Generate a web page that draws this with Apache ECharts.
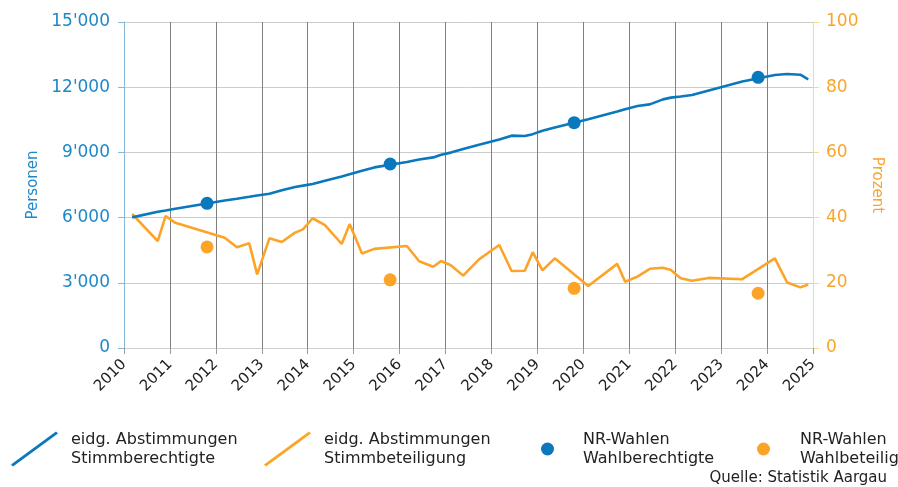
<!DOCTYPE html>
<html>
<head>
<meta charset="utf-8">
<script src="https://cdn.jsdelivr.net/npm/echarts@6/dist/echarts.min.js"></script>
<style>
html,body{margin:0;padding:0;background:#fff;}
#chart{width:898px;height:487px;}
</style>
</head>
<body>
<div id="chart"></div>
<script>
// ---- data ----
const voteDates = ['2010-03-07','2010-09-26','2010-11-28','2011-02-13','2012-03-11','2012-06-17','2012-09-23','2012-11-25',
  '2013-03-03','2013-06-09','2013-09-22','2013-11-24','2014-02-09','2014-05-18','2014-09-28','2014-11-30',
  '2015-03-08','2015-06-14','2016-02-28','2016-06-05','2016-09-25','2016-11-27','2017-02-12','2017-05-21',
  '2017-09-24','2018-03-04','2018-06-10','2018-09-23','2018-11-25','2019-02-10','2019-05-19','2020-02-09',
  '2020-09-27','2020-11-29','2021-03-07','2021-06-13','2021-09-26','2021-11-28','2022-02-13','2022-05-15',
  '2022-09-25','2023-06-18','2024-03-03','2024-06-09','2024-09-22','2024-11-24'];
const voteEligible = [6010,6270,6330,6410,6790,6870,6960,7020,
  7100,7260,7410,7470,7545,7700,7890,7990,
  8160,8310,8560,8670,8770,8890,8990,9160,
  9350,9590,9770,9755,9840,10000,10145,10530,
  10880,10990,11134,11210,11440,11520,11570,11640,
  11850,12260,12560,12605,12575,12360];
const voteTurnout = [41.1,32.8,40.5,38.4,33.8,30.9,32.1,22.6,
  33.7,32.5,35.4,36.4,39.8,37.7,31.9,38.0,
  29.0,30.4,31.3,26.6,24.9,26.7,25.4,22.2,
  27.2,31.6,23.6,23.7,29.4,23.8,27.5,19.0,
  25.8,20.3,21.9,24.3,24.6,23.9,21.4,20.6,
  21.5,21.1,27.5,20.1,18.6,19.5];
const electionDates = ['2011-10-23','2015-10-18','2019-10-20','2023-10-22'];
const electionEligible = [6657,8466,10367,12453];
const electionTurnout = [31.0,20.9,18.3,16.8];
const seriesNames = ['eidg. Abstimmungen\nStimmberechtigte','eidg. Abstimmungen\nStimmbeteiligung',
  'NR-Wahlen\nWahlberechtigte','NR-Wahlen\nWahlbeteiligung'];
const sourceText = 'Quelle: Statistik Aargau';

// ---- helpers ----
function toYear(s){
  const d = new Date(s+'T00:00:00Z');
  const y = d.getUTCFullYear();
  const a = Date.UTC(y,0,1), b = Date.UTC(y+1,0,1);
  return y + (d.getTime()-a)/(b-a);
}
function pairs(dates, vals){ return dates.map((d,i)=>[toYear(d), vals[i]]); }
function fmtThousands(v){ return String(v).replace(/\B(?=(\d{3})+(?!\d))/g, "'"); }

const BLUE = '#0a78bd', ORANGE = '#fca428';
const FONT = 'DejaVu Sans';
const linePath = 'path://M0,33 L45,0 L47,2 L2,35 Z';

const chart = echarts.init(document.getElementById('chart'));
const legendBase = {
  orient:'horizontal', top:430, padding:0, selectedMode:false,
  textStyle:{fontFamily:FONT, fontSize:16, color:'#222', lineHeight:19}
};
chart.setOption({
  animation:false,
  backgroundColor:'#fff',
  textStyle:{fontFamily:FONT},
  grid:{left:124, right:85, top:22, bottom:139, containLabel:false},
  title:{text:sourceText, right:11, top:471, padding:0,
    textStyle:{fontFamily:FONT, fontSize:15, fontWeight:'normal', color:'#222'}},
  legend:[
    Object.assign({}, legendBase, {left:11, itemWidth:47, itemHeight:35, data:[{name:seriesNames[0], icon:linePath}],
      textStyle:Object.assign({}, legendBase.textStyle, {padding:[0,0,0,8]})}),
    Object.assign({}, legendBase, {left:264, itemWidth:47, itemHeight:35, data:[{name:seriesNames[1], icon:linePath}],
      textStyle:Object.assign({}, legendBase.textStyle, {padding:[0,0,0,8]})}),
    Object.assign({}, legendBase, {left:541, itemWidth:13, itemHeight:13, data:[{name:seriesNames[2], icon:'circle'}],
      textStyle:Object.assign({}, legendBase.textStyle, {padding:[0,0,0,24]})}),
    Object.assign({}, legendBase, {left:757, itemWidth:13, itemHeight:13, data:[{name:seriesNames[3], icon:'circle'}],
      textStyle:Object.assign({}, legendBase.textStyle, {padding:[0,0,0,25]})})
  ],
  xAxis:{
    type:'value', min:2010, max:2025, interval:1,
    axisLine:{show:true, lineStyle:{color:'#cfcfcf', width:1}},
    axisTick:{show:true, length:6, lineStyle:{color:'#999'}},
    axisLabel:{rotate:45, margin:14, fontFamily:FONT, fontSize:15, color:'#222', formatter:v=>String(v)},
    splitLine:{show:true, lineStyle:{color:'#808080', width:1}}
  },
  yAxis:[
    {type:'value', min:0, max:15000, interval:3000, position:'left',
      name:'Personen', nameLocation:'middle', nameGap:80,
      nameTextStyle:{fontFamily:FONT, fontSize:15, color:'#1e88c8'},
      axisLine:{show:true, lineStyle:{color:'#86b9d9', width:1}},
      axisTick:{show:true, length:6, lineStyle:{color:'#86b9d9'}},
      axisLabel:{margin:14, fontFamily:FONT, fontSize:17, color:'#1e88c8', formatter:fmtThousands},
      splitLine:{show:true, lineStyle:{color:'#cccccc', width:1}}},
    {type:'value', min:0, max:100, interval:20, position:'right',
      name:'Prozent', nameLocation:'middle', nameGap:50, nameRotate:-90,
      nameTextStyle:{fontFamily:FONT, fontSize:15, color:'#f7a52c'},
      axisLine:{show:true, lineStyle:{color:'#fdd596', width:1}},
      axisTick:{show:true, length:6, lineStyle:{color:'#fdd596'}},
      axisLabel:{margin:13, fontFamily:FONT, fontSize:17, color:'#f7a52c'},
      splitLine:{show:false}}
  ],
  series:[
    {name:seriesNames[1], type:'line', yAxisIndex:1, data:pairs(voteDates, voteTurnout),
      showSymbol:false, symbol:'none', lineStyle:{color:ORANGE, width:2.6}, itemStyle:{color:ORANGE}, z:2},
    {name:seriesNames[0], type:'line', yAxisIndex:0, data:pairs(voteDates, voteEligible),
      showSymbol:false, symbol:'none', lineStyle:{color:BLUE, width:2.6}, itemStyle:{color:BLUE}, z:3},
    {name:seriesNames[2], type:'scatter', yAxisIndex:0, data:pairs(electionDates, electionEligible),
      symbolSize:13, itemStyle:{color:BLUE, opacity:1}, z:4},
    {name:seriesNames[3], type:'scatter', yAxisIndex:1, data:pairs(electionDates, electionTurnout),
      symbolSize:13, itemStyle:{color:ORANGE, opacity:1}, z:4}
  ]
});
</script>
</body>
</html>
